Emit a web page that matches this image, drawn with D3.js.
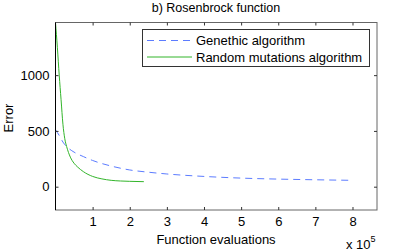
<!DOCTYPE html>
<html>
<head>
<meta charset="utf-8">
<script src="https://cdn.jsdelivr.net/npm/d3@7"></script>
<style>
  body { margin: 0; background: #fff; }
  svg text { font-family: "Liberation Sans", Arial, sans-serif; fill: #000; }
</style>
</head>
<body>
<svg id="chart" width="415" height="251"></svg>
<script>
// values in units of 1e5 function evaluations
var gaX = [0, 0.1, 0.2, 0.3, 0.5, 0.75, 1.0, 1.5, 2.0, 2.5, 3, 4, 5, 6, 7, 8];
var gaY = [510, 460, 400, 360, 310, 270, 235, 185, 150, 130, 114, 92, 77, 68, 62, 57];

var rmX = [0, 0.05, 0.1, 0.15, 0.2, 0.25, 0.3, 0.4, 0.5, 0.6, 0.75, 1.0, 1.25, 1.5, 1.75, 2.0, 2.38];
var rmY = [1470, 1250, 1000, 780, 560, 430, 360, 265, 210, 175, 135, 92, 70, 57, 51, 48, 45];

var xTicks = [1, 2, 3, 4, 5, 6, 7, 8];
var yTicks = [0, 500, 1000];
var seriesNames = ['Genethic algorithm', 'Random mutations algorithm'];

(function () {
	var svg = d3.select('#chart');
	var left = 55.5, right = 377, top = 22.5, bottom = 210;
	var fs = '13px';

	var x = d3.scaleLinear().domain([0, 8.66]).range([left, right]);
	var y = d3.scaleLinear().domain([-209, 1472]).range([bottom, top]);

	var line = d3.line()
		.x(function (d) { return x(d[0]); })
		.y(function (d) { return y(d[1]); })
		.curve(d3.curveMonotoneX);

	var ga = d3.zip(gaX, gaY);
	var rm = d3.zip(rmX, rmY);

	svg.append('path')
		.attr('d', line(ga))
		.attr('fill', 'none')
		.attr('stroke', '#5c7cff')
		.attr('stroke-width', 1)
		.attr('stroke-dasharray', '7,5');

	svg.append('path')
		.attr('d', line(rm))
		.attr('fill', 'none')
		.attr('stroke', '#33b52b')
		.attr('stroke-width', 1);

	// box
	svg.append('rect')
		.attr('x', left).attr('y', top)
		.attr('width', right - left).attr('height', bottom - top)
		.attr('fill', 'none').attr('stroke', '#666').attr('stroke-width', 1);
	svg.append('line')
		.attr('x1', left).attr('x2', left).attr('y1', top).attr('y2', bottom)
		.attr('stroke', '#000');

	// inward ticks on all sides
	var xAxisB = d3.axisBottom(x).tickValues(xTicks).tickSize(-3).tickPadding(7)
		.tickFormat(d3.format('d'));
	var xAxisT = d3.axisTop(x).tickValues(xTicks).tickSize(-3).tickFormat('');
	var yAxisL = d3.axisLeft(y).tickValues(yTicks).tickSize(-3).tickPadding(6)
		.tickFormat(d3.format('d'));
	var yAxisR = d3.axisRight(y).tickValues(yTicks).tickSize(-3).tickFormat('');

	function style(g) {
		g.select('.domain').remove();
		g.selectAll('.tick line').attr('stroke', '#333');
		g.selectAll('.tick text')
			.style('font-family', '"Liberation Sans", Arial, sans-serif')
			.style('font-size', fs).attr('fill', '#000');
	}

	svg.append('g').attr('transform', 'translate(0,' + bottom + ')').call(xAxisB).call(style);
	svg.append('g').attr('transform', 'translate(0,' + top + ')').call(xAxisT).call(style);
	svg.append('g').attr('transform', 'translate(' + left + ',0)').call(yAxisL).call(style);
	svg.append('g').attr('transform', 'translate(' + right + ',0)').call(yAxisR).call(style);

	// labels
	svg.append('text')
		.attr('x', 216).attr('y', 12)
		.attr('text-anchor', 'middle')
		.style('font-size', '12.5px')
		.text('b) Rosenbrock function');

	svg.append('text')
		.attr('x', 216).attr('y', 244)
		.attr('text-anchor', 'middle')
		.style('font-size', fs)
		.text('Function evaluations');

	svg.append('text')
		.attr('transform', 'translate(13,118) rotate(-90)')
		.attr('text-anchor', 'middle')
		.style('font-size', fs)
		.text('Error');

	var mult = svg.append('text')
		.attr('x', 346).attr('y', 249)
		.style('font-size', fs);
	mult.append('tspan').text('x 10');
	mult.append('tspan').attr('dy', -7).style('font-size', '9px').text('5');

	// legend
	var lg = svg.append('g');
	lg.append('rect')
		.attr('x', 142.5).attr('y', 29.5)
		.attr('width', 227).attr('height', 37)
		.attr('fill', '#fff').attr('stroke', '#333');

	var rows = [
		{name: seriesNames[0], color: '#5c7cff', dash: '7,5', cy: 40.5},
		{name: seriesNames[1], color: '#33b52b', dash: null, cy: 57}
	];
	rows.forEach(function (r) {
		lg.append('line')
			.attr('x1', 147).attr('x2', 192)
			.attr('y1', r.cy).attr('y2', r.cy)
			.attr('stroke', r.color)
			.attr('stroke-dasharray', r.dash);
		lg.append('text')
			.attr('x', 196).attr('y', r.cy + 4.5)
			.style('font-size', fs)
			.text(r.name);
	});
}());
</script>
</body>
</html>
